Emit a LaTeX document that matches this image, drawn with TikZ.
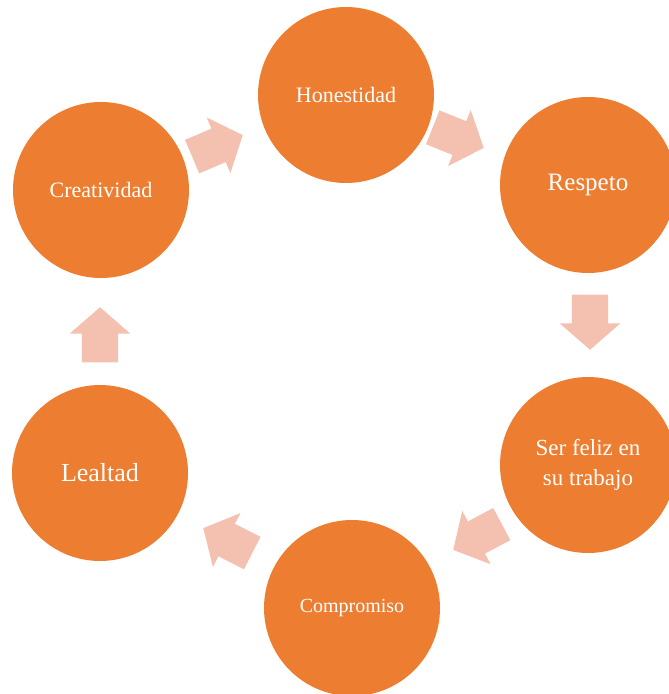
\documentclass[tikz,border=0pt]{standalone}
\usepackage{fontspec}
\setmainfont{Liberation Serif}
\usetikzlibrary{shapes.arrows}

\definecolor{valorange}{HTML}{ED7D31}
\definecolor{valpink}{HTML}{F4C0AF}

\begin{document}
\begin{tikzpicture}[
  x=1pt, y=-1pt,
  every node/.style={text=white, align=center},
  valor/.style={circle, fill=valorange, minimum size=176pt, inner sep=0pt},
  flecha/.style={single arrow, fill=valpink, inner xsep=0pt, inner ysep=18pt, anchor=tip,
    minimum height=55pt, single arrow head extend=12pt, single arrow tip angle=98}
]
\useasboundingbox (0,0) rectangle (669,694);
% the six values
\node[valor, font=\fontsize{22}{26}\selectfont] (honest) at (346,95) {Honestidad};
\node[valor, font=\fontsize{25}{30}\selectfont] (respeto) at (588,185) {Respeto};
\node[valor, font=\fontsize{23}{30}\selectfont] (feliz) at (588,465) {Ser feliz en\\su trabajo};
\node[valor, font=\fontsize{20}{24}\selectfont] (compro) at (352,608) {Compromiso};
\node[valor, font=\fontsize{26}{30}\selectfont] (lealtad) at (100,473) {Lealtad};
\node[valor, font=\fontsize{22}{26}\selectfont] (creat) at (101,190) {Creatividad};
% block arrows between them, placed by their tips
\node[flecha, rotate=23] (a1) at (243,135) {};
\node[flecha, rotate=-22] (a2) at (484,148) {};
\node[flecha, rotate=-90] (a3) at (590,350) {};
\node[flecha, rotate=-152] (a4) at (453,550) {};
\node[flecha, rotate=153] (a5) at (203,528) {};
\node[flecha, rotate=90] (a6) at (100,307) {};
\end{tikzpicture}
\end{document}
